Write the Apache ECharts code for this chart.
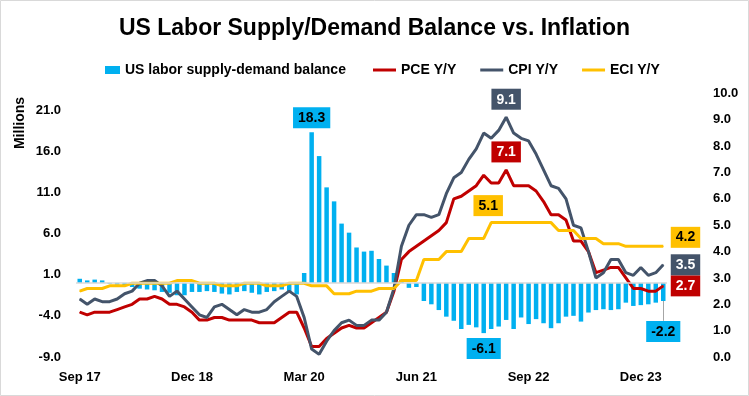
<!DOCTYPE html>
<html>
<head>
<meta charset="utf-8">
<script src="https://cdn.jsdelivr.net/npm/echarts@6/dist/echarts.min.js"></script>
<style>
html, body { margin: 0; padding: 0; background: #fff; }
#chart { width: 749px; height: 396px; }
</style>
</head>
<body>
<div id="chart"></div>
<script>
var FONT = '"Liberation Sans", Arial, sans-serif';

// months Sep 17 .. Mar 24
var monthNames = ['Jan','Feb','Mar','Apr','May','Jun','Jul','Aug','Sep','Oct','Nov','Dec'];
var months = [];
for (var y = 2017, m = 8; months.length < 79; m++) {
	if (m == 12) { m = 0; y++; }
	months.push(monthNames[m] + ' ' + String(y).slice(2));
}

// unemployed minus job openings, millions
var balance = [
	0.5, 0.3, 0.4, 0.3, -0.1, -0.2, -0.3, -0.5, -0.7, -0.8, -0.9, -1.1, -1.2, -1.5, -1.5, -1.1,
	-1.1, -1.0, -1.1, -1.3, -1.4, -1.1, -1.0, -1.2, -1.4, -1.1, -1.0, -0.8, -1.2, -1.4,
	1.2, 18.3, 15.4, 11.6, 9.9, 7.2, 6.1, 4.3, 3.8, 3.9, 2.9, 2.1, 1.2, 0.4, -0.6, -0.5,
	-2.2, -2.6, -3.3, -4.1, -4.6, -5.6, -5.1, -5.4, -6.1, -5.6, -5.3, -4.5, -5.6, -4.2, -5.0, -4.4, -4.9,
	-5.5, -4.9, -4.1, -4.0, -4.7, -3.6, -3.3, -3.2, -3.3, -3.2, -2.4, -2.8, -2.7, -2.6, -2.4, -2.2
];
var pce = [
	1.7, 1.6, 1.7, 1.7, 1.7, 1.8, 1.9, 2.0, 2.2, 2.2, 2.3, 2.2, 2.0, 2.0, 1.9, 1.7,
	1.4, 1.4, 1.5, 1.5, 1.4, 1.4, 1.4, 1.4, 1.3, 1.3, 1.3, 1.5, 1.7, 1.7,
	1.1, 0.4, 0.4, 0.7, 0.9, 1.1, 1.2, 1.1, 1.1, 1.3, 1.5, 1.7, 2.5, 3.7, 4.0, 4.2,
	4.4, 4.6, 4.8, 5.1, 6.0, 6.1, 6.3, 6.5, 6.9, 6.6, 6.6, 7.1, 6.5, 6.5, 6.5, 6.3, 5.9,
	5.4, 5.4, 5.2, 4.4, 4.4, 4.0, 3.2, 3.3, 3.4, 3.4, 3.0, 2.6, 2.6, 2.5, 2.5, 2.7
];
var cpi = [
	2.2, 2.0, 2.2, 2.1,
	2.1, 2.2, 2.4, 2.5, 2.8, 2.9, 2.9, 2.7, 2.3, 2.5, 2.2, 1.9,
	1.6, 1.5, 1.9, 2.0, 1.8, 1.6, 1.8, 1.7, 1.7, 1.8, 2.1, 2.3,
	2.5, 2.3, 1.5, 0.3, 0.1, 0.6, 1.0, 1.3, 1.4, 1.2, 1.2, 1.4,
	1.4, 1.7, 2.6, 4.2, 5.0, 5.4, 5.4, 5.3, 5.4, 6.2, 6.8, 7.0,
	7.5, 7.9, 8.5, 8.3, 8.6, 9.1, 8.5, 8.3, 8.2, 7.7, 7.1, 6.5,
	6.4, 6.0, 5.0, 4.9, 4.0, 3.0, 3.2, 3.7, 3.7, 3.2, 3.1, 3.4,
	3.1, 3.2, 3.5
];
// quarterly ECI held for each month of the quarter
var eci = [
	2.5, 2.6, 2.6, 2.6, 2.7, 2.7, 2.7, 2.8, 2.8, 2.8, 2.8, 2.8, 2.8, 2.9, 2.9, 2.9,
	2.8, 2.8, 2.8, 2.7, 2.7, 2.7, 2.8, 2.8, 2.8, 2.7, 2.7, 2.7,
	2.8, 2.8, 2.8, 2.7, 2.7, 2.7, 2.4, 2.4, 2.4, 2.5, 2.5, 2.5,
	2.6, 2.6, 2.6, 2.9, 2.9, 2.9, 3.7, 3.7, 3.7, 4.0, 4.0, 4.0,
	4.5, 4.5, 4.5, 5.1, 5.1, 5.1, 5.1, 5.1, 5.1, 5.1, 5.1, 5.1,
	4.8, 4.8, 4.8, 4.5, 4.5, 4.5, 4.3, 4.3, 4.3, 4.2, 4.2, 4.2,
	4.2, 4.2, 4.2
];
var leftTicks = { min: -9, max: 23, interval: 5 };
var rightTicks = { min: 0, max: 10, interval: 1 };

var BLUE = '#00B0F0', RED = '#C00000', GREY = '#44546A', GOLD = '#FFC000';
var last = months.length - 1;

function box(bg, fg, pos, dist) {
	return {
		show: true, position: pos, distance: dist,
		backgroundColor: bg, color: fg,
		fontFamily: FONT, fontWeight: 'bold', fontSize: 14,
		padding: [4, 5, 3, 5],
		formatter: function(p) { return Number(p.value).toFixed(1); }
	};
}
// put a label box on chosen points
function withLabels(arr, marks) {
	return arr.map(function(v, i) {
		if (marks[i]) return { value: v, label: marks[i] };
		return v;
	});
}

var balMarks = {};
balMarks[31] = box(BLUE, '#000', 'top', 4);
balMarks[54] = box(BLUE, '#000', 'bottom', 5);
balMarks[last] = box(BLUE, '#000', 'bottom', 20);

var pceMarks = {};
pceMarks[57] = box(RED, '#fff', 'top', 7);
pceMarks[last] = box(RED, '#fff', 'right', 7);

var cpiMarks = {};
cpiMarks[57] = box(GREY, '#fff', 'top', 7);
cpiMarks[last] = box(GREY, '#fff', 'right', 7);

var eciMarks = {};
eciMarks[55] = Object.assign(box(GOLD, '#000', 'top', 6), { offset: [-3, 0] });
eciMarks[last] = Object.assign(box(GOLD, '#000', 'right', 7), { offset: [0, -9] });

function lineSeries(name, color, data, marks) {
	return {
		name: name, type: 'line', yAxisIndex: 1,
		data: withLabels(data, marks),
		symbol: 'circle', symbolSize: 1, showSymbol: true, showAllSymbol: true,
		itemStyle: { color: color },
		lineStyle: { color: color, width: 3 },
		emphasis: { disabled: true }
	};
}

var axisText = { fontFamily: FONT, fontWeight: 'bold', fontSize: 13, color: '#000' };

var chart = echarts.init(document.getElementById('chart'));
var option = {
	animation: false,
	backgroundColor: '#fff',
	title: {
		text: 'US Labor Supply/Demand Balance vs. Inflation',
		left: 'center', top: 12,
		textStyle: { fontFamily: FONT, fontWeight: 'bold', fontSize: 23, color: '#000' }
	},
	legend: [{
		data: [{ name: 'US labor supply-demand balance', icon: 'rect' }],
		left: 100, top: 58,
		itemWidth: 15, itemHeight: 8,
		textStyle: { fontFamily: FONT, fontWeight: 'bold', fontSize: 14, color: '#000' }
	}, {
		data: [
			{ name: 'PCE Y/Y', icon: 'rect' },
			{ name: 'CPI Y/Y', icon: 'rect' },
			{ name: 'ECI Y/Y', icon: 'rect' }
		],
		left: 368, top: 58,
		itemWidth: 23, itemHeight: 3, itemGap: 24,
		textStyle: { fontFamily: FONT, fontWeight: 'bold', fontSize: 14, color: '#000' }
	}],
	grid: { left: 76, right: 82, top: 93.5, bottom: 39, containLabel: false, outerBoundsMode: 'none' },
	xAxis: {
		type: 'category', data: months,
		axisLine: { show: false, onZero: false },
		axisTick: { show: false },
		axisLabel: Object.assign({ interval: 14, margin: 14 }, axisText),
		splitLine: { show: false }
	},
	yAxis: [{
		type: 'value', position: 'left',
		min: leftTicks.min, max: leftTicks.max, interval: leftTicks.interval,
		axisLine: { show: false }, axisTick: { show: false }, splitLine: { show: false },
		axisLabel: Object.assign({
			margin: 15, showMaxLabel: false,
			formatter: function(v) { return v == leftTicks.max ? '' : v.toFixed(1); }
		}, axisText)
	}, {
		type: 'value', position: 'right',
		min: rightTicks.min, max: rightTicks.max, interval: rightTicks.interval,
		axisLine: { show: false }, axisTick: { show: false }, splitLine: { show: false },
		axisLabel: Object.assign({
			margin: 46,
			formatter: function(v) { return v.toFixed(1); }
		}, axisText)
	}],
	series: [{
		name: 'US labor supply-demand balance', type: 'bar', yAxisIndex: 0,
		data: withLabels(balance, balMarks),
		barWidth: '60%',
		itemStyle: { color: BLUE },
		emphasis: { disabled: true },
		markLine: {
			silent: true, symbol: 'none', animation: false,
			label: { show: false },
			lineStyle: { color: '#D9D9D9', width: 1.5, type: 'solid' },
			data: [
				{ yAxis: 0 },
				// leader from the last bar down to its label
				[{ coord: [last, balance[last]], lineStyle: { color: '#A6A6A6', width: 1, type: 'solid' } },
				 { coord: [last, balance[last] - 2.4] }]
			]
		}
	},
		lineSeries('PCE Y/Y', RED, pce, pceMarks),
		lineSeries('CPI Y/Y', GREY, cpi, cpiMarks),
		lineSeries('ECI Y/Y', GOLD, eci, eciMarks)
	],
	graphic: [{
		type: 'rect', silent: true,
		shape: { x: 0.5, y: 0.5, width: 748, height: 395 },
		style: { fill: 'none', stroke: '#D9D9D9', lineWidth: 1 }
	}, {
		type: 'text', x: 20, y: 123, rotation: Math.PI / 2, silent: true,
		style: { text: 'Millions', font: 'bold 14px ' + FONT, fill: '#000', align: 'center', verticalAlign: 'middle' }
	}]
};
chart.setOption(option);
</script>
</body>
</html>
